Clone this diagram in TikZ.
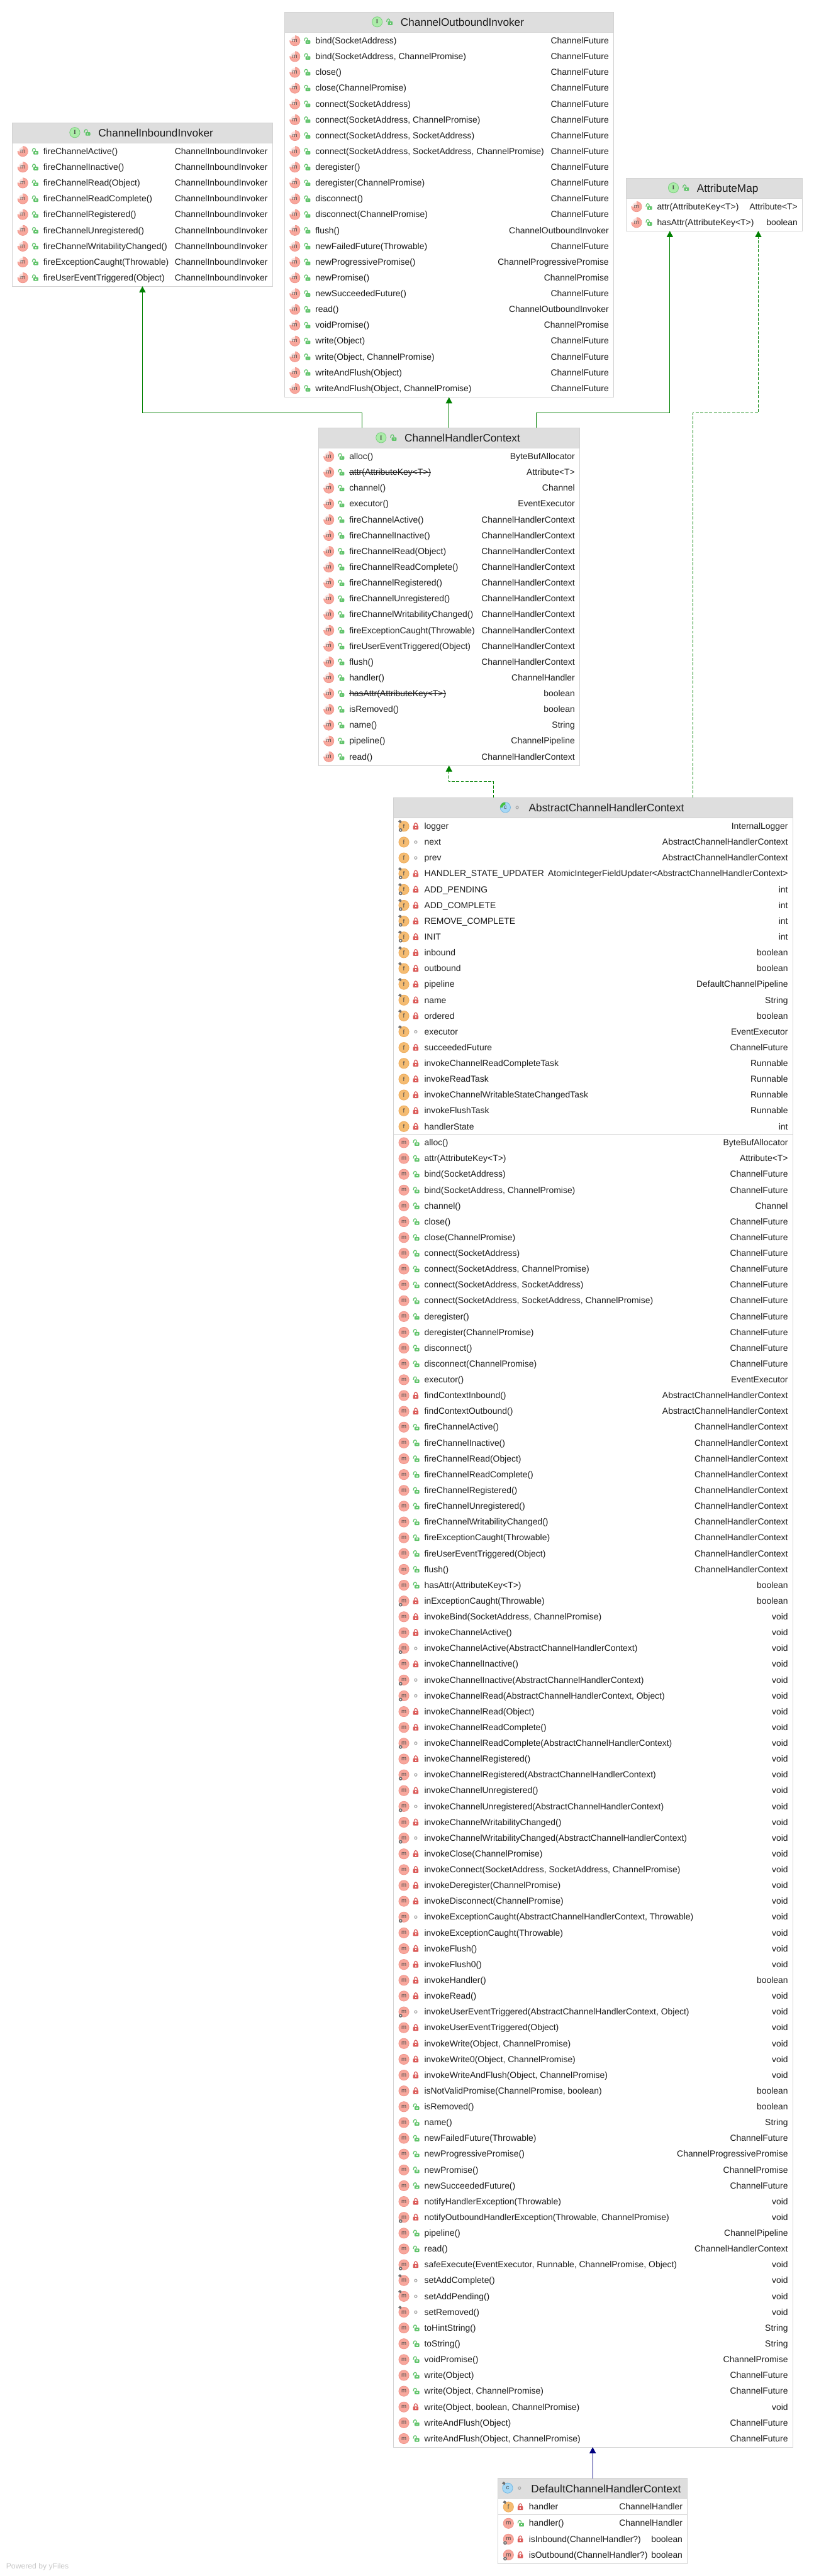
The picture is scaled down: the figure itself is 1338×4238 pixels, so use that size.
\documentclass[tikz,border=0pt]{standalone}
\usepackage{fontspec}
\setmainfont{Liberation Sans}
\newfontfamily\iconserif{Liberation Serif}
\usetikzlibrary{arrows.meta,positioning}

\definecolor{headgray}{HTML}{DEDEDE}
\definecolor{edgegray}{HTML}{D2D2D2}
\definecolor{rowink}{HTML}{1C1C1C}
\definecolor{mpink}{HTML}{F8A79C}
\definecolor{mpinkdk}{HTML}{F0938A}
\definecolor{forange}{HTML}{F5BC72}
\definecolor{forangedk}{HTML}{EDAA58}
\definecolor{cblue}{HTML}{A6D8F6}
\definecolor{cbluedk}{HTML}{70B6E2}
\definecolor{cgreen}{HTML}{45C040}
\definecolor{igreen}{HTML}{ABECA8}
\definecolor{igreendk}{HTML}{78CC7C}
\definecolor{lockgreen}{HTML}{62C46C}
\definecolor{lockred}{HTML}{DB5A58}
\definecolor{markgray}{HTML}{6E6E6E}
\definecolor{dotgray}{HTML}{ABABAB}
\definecolor{inhgreen}{HTML}{008000}
\definecolor{extblue}{HTML}{000080}

\newcommand{\strk}[1]{\setbox0\hbox{#1}\rlap{\rule[.3em]{\wd0}{.9pt}}\box0}
\newcommand{\umlhead}[4]{%
  \fill[headgray] ([xshift=.5pt,yshift=-.5pt]#1.north west) rectangle ([xshift=-.5pt,yshift=-32.5pt]#1.north east);
  \draw[seprule] ([yshift=-33pt]#1.north west) -- ([yshift=-33pt]#1.north east);
  \node[titletext] (#1-title) at ([xshift=22pt,yshift=-23.2pt]#1.north) {#2};
  \pic at ([xshift=-38.5pt,yshift=-16pt]#1-title.west |- #1.north) {#3};
  \pic at ([xshift=-19pt,yshift=-16pt]#1-title.west |- #1.north) {#4};
}
\newcommand{\umlrows}[4]{%
  \foreach \ic/\vis/\nm/\ty [count=\rw from 0] in {#4} {
    \pgfmathsetmacro{\off}{#3+26*\rw}
    \pic at ([xshift=17pt,yshift=-\off pt]#1.north west) {\ic};
    \pic at ([xshift=36.5pt,yshift=-\off pt]#1.north west) {\vis};
    \node[memtext] (#1-#2\rw-name) at ([xshift=50.5pt,yshift=-\off pt-4.9pt]#1.north west) {\nm};
    \node[typetext] (#1-#2\rw-type) at ([xshift=-7.5pt,yshift=-\off pt-4.9pt]#1.north east) {\ty};
  }
}

\begin{document}
\begin{tikzpicture}[
  x=1pt,y=-1pt,
  font=\fontsize{14.4}{16}\selectfont,
  classbox/.style={draw=edgegray,fill=white,line width=1pt,inner sep=0pt,outer sep=0pt},
  seprule/.style={draw=edgegray,line width=1pt},
  titletext/.style={anchor=base,inner sep=0pt,text=rowink,font=\fontsize{17.8}{20}\selectfont},
  memtext/.style={anchor=base west,inner sep=0pt,text=rowink},
  typetext/.style={anchor=base east,inner sep=0pt,text=rowink},
  iconletter/.style={inner sep=0pt,text=black!70,font=\fontsize{10}{12}\selectfont},
  inh/.style={-{Triangle[length=10pt,width=10.5pt]},draw=inhgreen,line width=1pt},
  impl/.style={inh,dash pattern=on 5pt off 2.5pt},
  ext/.style={-{Triangle[length=10pt,width=10.5pt]},draw=extblue,line width=1pt},
  pics/pinmark/.style={code={
    \fill[markgray] (-9.5,-7.5) -- (-6.5,-10.5) -- (-3.8,-8.5) -- (-4.8,-5) -- cycle;}},
  pics/gearmark/.style={code={
    \draw[markgray,line width=1.7pt,fill=white] (-5.5,6.2) circle (2.1);}},
  pics/mth/.style={code={
    \filldraw[fill=mpink,draw=mpinkdk,line width=.8pt] (0,0) circle (8.4);
    \node[iconletter] (ltr) {m};}},
  pics/mabs/.style={code={
    \filldraw[fill=mpink,draw=mpinkdk,line width=.8pt] (0,0) circle (8.4);
    \fill[white] (0,-.5) -- (0,-9.5) -- (-4,-9.5) -- (-9.5,-4) -- (-9.5,-.5) -- cycle;
    \fill[mpink!35] (0,0) -- (0,-7) .. controls (-4,-7) and (-7,-4) .. (-7,0) -- cycle;
    \node[iconletter] (ltr) {m};}},
  pics/mstat/.style={code={\pic {mth}; \pic {gearmark};}},
  pics/mfin/.style={code={\pic {mth}; \pic {pinmark};}},
  pics/fplain/.style={code={
    \filldraw[fill=forange,draw=forangedk,line width=.8pt] (0,0) circle (8.4);
    \node[iconletter] (ltr) {f};}},
  pics/ffin/.style={code={\pic {fplain}; \pic {pinmark};}},
  pics/fsfin/.style={code={\pic {fplain}; \pic {pinmark}; \pic {gearmark};}},
  pics/ifc/.style={code={
    \filldraw[fill=igreen,draw=igreendk,line width=.8pt] (0,0) circle (8.4);
    \node[iconletter] (ltr) {\iconserif\bfseries I};}},
  pics/cabs/.style={code={
    \filldraw[fill=cblue,draw=cbluedk,line width=.8pt] (0,0) circle (8.4);
    \fill[cgreen] (0,0) -- (0,-8.6) .. controls (-4.8,-8.6) and (-8.6,-4.8) .. (-8.6,0) -- cycle;
    \fill[cblue] (0,0) circle (4.5);
    \node[iconletter] (ltr) {c};}},
  pics/cfin/.style={code={
    \filldraw[fill=cblue,draw=cbluedk,line width=.8pt] (0,0) circle (8.4);
    \node[iconletter] (ltr) {c};
    \pic {pinmark};}},
  pics/pub/.style={code={
    \draw[lockgreen,line width=1.3pt] (-4,0) .. controls (-4,-6.4) and (1.6,-6.4) .. (1.6,-1);
    \fill[lockgreen,rounded corners=1pt] (-2,-.6) rectangle (6,5.2);
    \fill[white] (1.3,1.2) rectangle (2.8,3.2);}},
  pics/priv/.style={code={
    \draw[lockred,line width=1.3pt] (-2.8,-1) .. controls (-2.8,-6.8) and (2.8,-6.8) .. (2.8,-1);
    \fill[lockred,rounded corners=1pt] (-4.5,-1) rectangle (4.5,5.2);
    \fill[white] (-.8,.9) rectangle (.8,3);}},
  pics/pack/.style={code={
    \draw[dotgray,line width=1.3pt] (0,0) circle (2.1);}}]

% class boxes
\node[classbox,minimum width=541pt,minimum height=633.5pt] (coi) at (738.5,336.75) {};
\node[classbox,minimum width=427.5pt,minimum height=269pt,left=20pt of coi.north west,anchor=north east,yshift=-182pt] (cii) {};
\node[classbox,minimum width=289.5pt,minimum height=87pt,right=21pt of coi.north east,anchor=north west,yshift=-273pt] (attrmap) {};
\node[classbox,minimum width=429.4pt,minimum height=555.4pt,below=50.5pt of coi] (chc) {};
\node[classbox,minimum width=656.4pt,minimum height=2713.6pt,below=53pt of chc,xshift=237pt] (abc) {};
\node[classbox,minimum width=311pt,minimum height=140pt,below=51.3pt of abc,xshift=-.7pt] (dchc) {};

% headers
\umlhead{cii}{ChannelInboundInvoker}{ifc}{pub}
\umlhead{coi}{ChannelOutboundInvoker}{ifc}{pub}
\umlhead{attrmap}{AttributeMap}{ifc}{pub}
\umlhead{chc}{ChannelHandlerContext}{ifc}{pub}
\umlhead{abc}{AbstractChannelHandlerContext}{cabs}{pack}
\umlhead{dchc}{DefaultChannelHandlerContext}{cfin}{pack}

% members
\umlrows{cii}{m}{47}{
  mabs/pub/fireChannelActive()/ChannelInboundInvoker,
  mabs/pub/fireChannelInactive()/ChannelInboundInvoker,
  mabs/pub/fireChannelRead(Object)/ChannelInboundInvoker,
  mabs/pub/fireChannelReadComplete()/ChannelInboundInvoker,
  mabs/pub/fireChannelRegistered()/ChannelInboundInvoker,
  mabs/pub/fireChannelUnregistered()/ChannelInboundInvoker,
  mabs/pub/fireChannelWritabilityChanged()/ChannelInboundInvoker,
  mabs/pub/fireExceptionCaught(Throwable)/ChannelInboundInvoker,
  mabs/pub/fireUserEventTriggered(Object)/ChannelInboundInvoker}
\umlrows{coi}{m}{47}{
  mabs/pub/bind(SocketAddress)/ChannelFuture,
  mabs/pub/{bind(SocketAddress, ChannelPromise)}/ChannelFuture,
  mabs/pub/close()/ChannelFuture,
  mabs/pub/close(ChannelPromise)/ChannelFuture,
  mabs/pub/connect(SocketAddress)/ChannelFuture,
  mabs/pub/{connect(SocketAddress, ChannelPromise)}/ChannelFuture,
  mabs/pub/{connect(SocketAddress, SocketAddress)}/ChannelFuture,
  mabs/pub/{connect(SocketAddress, SocketAddress, ChannelPromise)}/ChannelFuture,
  mabs/pub/deregister()/ChannelFuture,
  mabs/pub/deregister(ChannelPromise)/ChannelFuture,
  mabs/pub/disconnect()/ChannelFuture,
  mabs/pub/disconnect(ChannelPromise)/ChannelFuture,
  mabs/pub/flush()/ChannelOutboundInvoker,
  mabs/pub/newFailedFuture(Throwable)/ChannelFuture,
  mabs/pub/newProgressivePromise()/ChannelProgressivePromise,
  mabs/pub/newPromise()/ChannelPromise,
  mabs/pub/newSucceededFuture()/ChannelFuture,
  mabs/pub/read()/ChannelOutboundInvoker,
  mabs/pub/voidPromise()/ChannelPromise,
  mabs/pub/write(Object)/ChannelFuture,
  mabs/pub/{write(Object, ChannelPromise)}/ChannelFuture,
  mabs/pub/writeAndFlush(Object)/ChannelFuture,
  mabs/pub/{writeAndFlush(Object, ChannelPromise)}/ChannelFuture}
\umlrows{attrmap}{m}{47}{
  mabs/pub/attr(AttributeKey<T>)/Attribute<T>,
  mabs/pub/hasAttr(AttributeKey<T>)/boolean}
\umlrows{chc}{m}{47}{
  mabs/pub/alloc()/ByteBufAllocator,
  mabs/pub/\strk{attr(AttributeKey<T>)}/Attribute<T>,
  mabs/pub/channel()/Channel,
  mabs/pub/executor()/EventExecutor,
  mabs/pub/fireChannelActive()/ChannelHandlerContext,
  mabs/pub/fireChannelInactive()/ChannelHandlerContext,
  mabs/pub/fireChannelRead(Object)/ChannelHandlerContext,
  mabs/pub/fireChannelReadComplete()/ChannelHandlerContext,
  mabs/pub/fireChannelRegistered()/ChannelHandlerContext,
  mabs/pub/fireChannelUnregistered()/ChannelHandlerContext,
  mabs/pub/fireChannelWritabilityChanged()/ChannelHandlerContext,
  mabs/pub/fireExceptionCaught(Throwable)/ChannelHandlerContext,
  mabs/pub/fireUserEventTriggered(Object)/ChannelHandlerContext,
  mabs/pub/flush()/ChannelHandlerContext,
  mabs/pub/handler()/ChannelHandler,
  mabs/pub/\strk{hasAttr(AttributeKey<T>)}/boolean,
  mabs/pub/isRemoved()/boolean,
  mabs/pub/name()/String,
  mabs/pub/pipeline()/ChannelPipeline,
  mabs/pub/read()/ChannelHandlerContext}
\umlrows{abc}{f}{47}{
  fsfin/priv/logger/InternalLogger,
  fplain/pack/next/AbstractChannelHandlerContext,
  fplain/pack/prev/AbstractChannelHandlerContext,
  fsfin/priv/HANDLER\_STATE\_UPDATER/AtomicIntegerFieldUpdater<AbstractChannelHandlerContext>,
  fsfin/priv/ADD\_PENDING/int,
  fsfin/priv/ADD\_COMPLETE/int,
  fsfin/priv/REMOVE\_COMPLETE/int,
  fsfin/priv/INIT/int,
  ffin/priv/inbound/boolean,
  ffin/priv/outbound/boolean,
  ffin/priv/pipeline/DefaultChannelPipeline,
  ffin/priv/name/String,
  ffin/priv/ordered/boolean,
  ffin/pack/executor/EventExecutor,
  fplain/priv/succeededFuture/ChannelFuture,
  fplain/priv/invokeChannelReadCompleteTask/Runnable,
  fplain/priv/invokeReadTask/Runnable,
  fplain/priv/invokeChannelWritableStateChangedTask/Runnable,
  fplain/priv/invokeFlushTask/Runnable,
  fplain/priv/handlerState/int}
\draw[seprule] ([yshift=-554pt]abc.north west) -- ([yshift=-554pt]abc.north east);
\umlrows{abc}{m}{567.5}{
  mth/pub/alloc()/ByteBufAllocator,
  mth/pub/attr(AttributeKey<T>)/Attribute<T>,
  mth/pub/bind(SocketAddress)/ChannelFuture,
  mth/pub/{bind(SocketAddress, ChannelPromise)}/ChannelFuture,
  mth/pub/channel()/Channel,
  mth/pub/close()/ChannelFuture,
  mth/pub/close(ChannelPromise)/ChannelFuture,
  mth/pub/connect(SocketAddress)/ChannelFuture,
  mth/pub/{connect(SocketAddress, ChannelPromise)}/ChannelFuture,
  mth/pub/{connect(SocketAddress, SocketAddress)}/ChannelFuture,
  mth/pub/{connect(SocketAddress, SocketAddress, ChannelPromise)}/ChannelFuture,
  mth/pub/deregister()/ChannelFuture,
  mth/pub/deregister(ChannelPromise)/ChannelFuture,
  mth/pub/disconnect()/ChannelFuture,
  mth/pub/disconnect(ChannelPromise)/ChannelFuture,
  mth/pub/executor()/EventExecutor,
  mth/priv/findContextInbound()/AbstractChannelHandlerContext,
  mth/priv/findContextOutbound()/AbstractChannelHandlerContext,
  mth/pub/fireChannelActive()/ChannelHandlerContext,
  mth/pub/fireChannelInactive()/ChannelHandlerContext,
  mth/pub/fireChannelRead(Object)/ChannelHandlerContext,
  mth/pub/fireChannelReadComplete()/ChannelHandlerContext,
  mth/pub/fireChannelRegistered()/ChannelHandlerContext,
  mth/pub/fireChannelUnregistered()/ChannelHandlerContext,
  mth/pub/fireChannelWritabilityChanged()/ChannelHandlerContext,
  mth/pub/fireExceptionCaught(Throwable)/ChannelHandlerContext,
  mth/pub/fireUserEventTriggered(Object)/ChannelHandlerContext,
  mth/pub/flush()/ChannelHandlerContext,
  mth/pub/hasAttr(AttributeKey<T>)/boolean,
  mstat/priv/inExceptionCaught(Throwable)/boolean,
  mth/priv/{invokeBind(SocketAddress, ChannelPromise)}/void,
  mth/priv/invokeChannelActive()/void,
  mstat/pack/invokeChannelActive(AbstractChannelHandlerContext)/void,
  mth/priv/invokeChannelInactive()/void,
  mstat/pack/invokeChannelInactive(AbstractChannelHandlerContext)/void,
  mstat/pack/{invokeChannelRead(AbstractChannelHandlerContext, Object)}/void,
  mth/priv/invokeChannelRead(Object)/void,
  mth/priv/invokeChannelReadComplete()/void,
  mstat/pack/invokeChannelReadComplete(AbstractChannelHandlerContext)/void,
  mth/priv/invokeChannelRegistered()/void,
  mstat/pack/invokeChannelRegistered(AbstractChannelHandlerContext)/void,
  mth/priv/invokeChannelUnregistered()/void,
  mstat/pack/invokeChannelUnregistered(AbstractChannelHandlerContext)/void,
  mth/priv/invokeChannelWritabilityChanged()/void,
  mstat/pack/invokeChannelWritabilityChanged(AbstractChannelHandlerContext)/void,
  mth/priv/invokeClose(ChannelPromise)/void,
  mth/priv/{invokeConnect(SocketAddress, SocketAddress, ChannelPromise)}/void,
  mth/priv/invokeDeregister(ChannelPromise)/void,
  mth/priv/invokeDisconnect(ChannelPromise)/void,
  mstat/pack/{invokeExceptionCaught(AbstractChannelHandlerContext, Throwable)}/void,
  mth/priv/invokeExceptionCaught(Throwable)/void,
  mth/priv/invokeFlush()/void,
  mth/priv/invokeFlush0()/void,
  mth/priv/invokeHandler()/boolean,
  mth/priv/invokeRead()/void,
  mstat/pack/{invokeUserEventTriggered(AbstractChannelHandlerContext, Object)}/void,
  mth/priv/invokeUserEventTriggered(Object)/void,
  mth/priv/{invokeWrite(Object, ChannelPromise)}/void,
  mth/priv/{invokeWrite0(Object, ChannelPromise)}/void,
  mth/priv/{invokeWriteAndFlush(Object, ChannelPromise)}/void,
  mth/priv/{isNotValidPromise(ChannelPromise, boolean)}/boolean,
  mth/pub/isRemoved()/boolean,
  mth/pub/name()/String,
  mth/pub/newFailedFuture(Throwable)/ChannelFuture,
  mth/pub/newProgressivePromise()/ChannelProgressivePromise,
  mth/pub/newPromise()/ChannelPromise,
  mth/pub/newSucceededFuture()/ChannelFuture,
  mth/priv/notifyHandlerException(Throwable)/void,
  mstat/priv/{notifyOutboundHandlerException(Throwable, ChannelPromise)}/void,
  mth/pub/pipeline()/ChannelPipeline,
  mth/pub/read()/ChannelHandlerContext,
  mstat/priv/{safeExecute(EventExecutor, Runnable, ChannelPromise, Object)}/void,
  mfin/pack/setAddComplete()/void,
  mfin/pack/setAddPending()/void,
  mfin/pack/setRemoved()/void,
  mth/pub/toHintString()/String,
  mth/pub/toString()/String,
  mth/pub/voidPromise()/ChannelPromise,
  mth/pub/write(Object)/ChannelFuture,
  mth/pub/{write(Object, ChannelPromise)}/ChannelFuture,
  mth/priv/{write(Object, boolean, ChannelPromise)}/void,
  mth/pub/writeAndFlush(Object)/ChannelFuture,
  mth/pub/{writeAndFlush(Object, ChannelPromise)}/ChannelFuture}
\umlrows{dchc}{f}{47}{
  ffin/priv/handler/ChannelHandler}
\draw[seprule] ([yshift=-60pt]dchc.north west) -- ([yshift=-60pt]dchc.north east);
\umlrows{dchc}{m}{74}{
  mth/pub/handler()/ChannelHandler,
  mstat/priv/isInbound(ChannelHandler?)/boolean,
  mstat/priv/isOutbound(ChannelHandler?)/boolean}

% connectors
\draw[inh] ([xshift=-143.5pt]chc.north) -- ++(0,-24.5) -| (cii.south);
\draw[inh] (chc.north) -- (coi.south);
\draw[inh] ([xshift=143.5pt]chc.north) -- ++(0,-24.5) -| ([xshift=-73pt]attrmap.south);
\draw[impl] ([xshift=-164pt]abc.north) -- ++(0,-26.5) -| (chc.south);
\draw[impl] ([xshift=164pt]abc.north) -- ++(0,-633) -| ([xshift=72.5pt]attrmap.south);
\draw[ext] (dchc.north) -- (dchc.north |- abc.south);

\node[anchor=base west,inner sep=0pt,text=black!22,font=\fontsize{12.6}{14}\selectfont] (yfiles) at (10,4226) {Powered by yFiles};
\useasboundingbox (0,0) rectangle (1338,4238);
\end{tikzpicture}
\end{document}
